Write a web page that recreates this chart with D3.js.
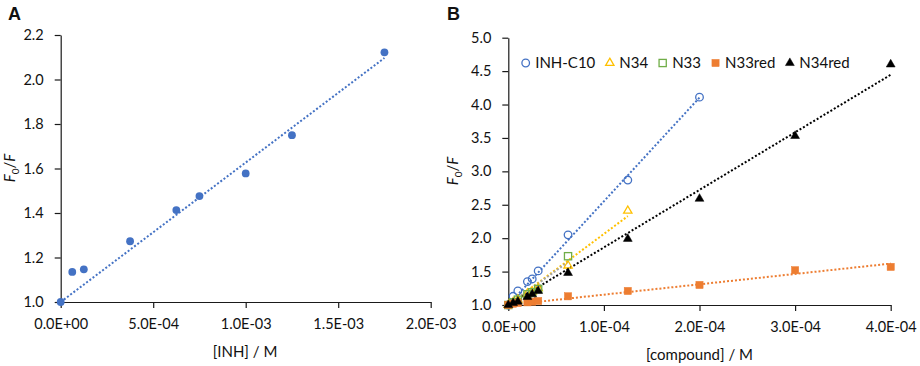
<!DOCTYPE html>
<html><head><meta charset="utf-8">
<script src="https://cdn.jsdelivr.net/npm/d3@7"></script>
<style>
body{margin:0;background:#fff;}
text{font-family:Lato,"Open Sans",sans-serif;fill:#111;}
</style></head>
<body><svg id="c" width="920" height="366"></svg>
<script>
// ---------- Panel A data ----------
const inhConc  = [0, 6.25e-5, 1.25e-4, 3.75e-4, 6.25e-4, 7.5e-4, 1.0e-3, 1.25e-3, 1.75e-3];
const inhRatio = [1.0, 1.135, 1.147, 1.273, 1.413, 1.476, 1.578, 1.75, 2.122];
const aXTicks = [0, 5e-4, 1e-3, 1.5e-3, 2e-3];
const aYTicks = [1.0, 1.2, 1.4, 1.6, 1.8, 2.0, 2.2];

// ---------- Panel B data ----------
const seriesNames = ["INH-C10", "N34", "N33", "N33red", "N34red"];
const c10Conc  = [0, 5e-6, 1e-5, 2e-5, 2.5e-5, 3.125e-5, 6.25e-5, 1.25e-4, 2e-4];
const c10Ratio = [1.0, 1.13, 1.21, 1.35, 1.39, 1.51, 2.05, 2.87, 4.11];
const n34Conc  = [0, 5e-6, 1e-5, 2e-5, 2.5e-5, 3.125e-5, 6.25e-5, 1.25e-4];
const n34Ratio = [1.0, 1.04, 1.08, 1.17, 1.20, 1.25, 1.59, 2.41];
const n33Conc  = [0, 5e-6, 1e-5, 2e-5, 2.5e-5, 3.125e-5, 6.25e-5];
const n33Ratio = [1.0, 1.04, 1.08, 1.16, 1.19, 1.24, 1.73];
const n33rConc  = [0, 5e-6, 1e-5, 2e-5, 2.5e-5, 3.125e-5, 6.25e-5, 1.25e-4, 2e-4, 3e-4, 4e-4];
const n33rRatio = [1.0, 1.02, 1.03, 1.04, 1.05, 1.06, 1.13, 1.21, 1.30, 1.52, 1.57];
const n34rConc  = [0, 5e-6, 1e-5, 2e-5, 2.5e-5, 3.125e-5, 6.25e-5, 1.25e-4, 2e-4, 3e-4, 4e-4];
const n34rRatio = [1.0, 1.03, 1.05, 1.12, 1.16, 1.21, 1.48, 1.99, 2.59, 3.53, 4.60];
const bXTicks = [0, 1e-4, 2e-4, 3e-4, 4e-4];
const bYTicks = [1.0, 1.5, 2.0, 2.5, 3.0, 3.5, 4.0, 4.5, 5.0];

const svg = d3.select("#c");

function sciFmt(v){
  const s = v.toExponential(1).split("e");
  const e = parseInt(s[1],10);
  return s[0] + "E" + (e<0?"-":"+") + String(Math.abs(e)).padStart(2,"0");
}
// Stern–Volmer fit with intercept fixed at 1
function svSlope(xs, ys){
  let num=0, den=0;
  xs.forEach((x,i)=>{num += x*(ys[i]-1); den += x*x;});
  return num/den;
}
function drawAxes(g, x, y, xt, yt){
  const ax = g.append("g").attr("transform",`translate(0,${y.range()[0]})`)
    .call(d3.axisBottom(x).tickValues(xt).tickFormat(sciFmt).tickSize(6).tickPadding(11).tickSizeOuter(0));
  const ay = g.append("g").attr("transform",`translate(${x.range()[0]},0)`)
    .call(d3.axisLeft(y).tickValues(yt).tickFormat(d3.format(".1f")).tickSize(6).tickPadding(11).tickSizeOuter(0));
  [ax,ay].forEach(a=>{
    a.selectAll("path,line").attr("stroke","#1a1a1a").attr("stroke-width",1.2);
    a.selectAll("text").style("font-size","14.5px").style("font-family","Lato, sans-serif").attr("fill","#111");
  });
}
function trend(g, x, y, xs, ys, color){
  const k = svSlope(xs, ys);
  const xmax = d3.max(xs);
  g.append("line")
    .attr("x1", x(0)).attr("y1", y(1))
    .attr("x2", x(xmax)).attr("y2", y(1 + k*xmax))
    .attr("stroke", color).attr("stroke-width", 2).attr("stroke-dasharray","2,2");
}
function yLabel(cx, cy){
  const t = svg.append("text").attr("transform",`translate(${cx},${cy}) rotate(-90)`)
    .attr("text-anchor","middle").style("font-size","15px");
  t.append("tspan").style("font-style","italic").text("F");
  t.append("tspan").attr("dy","4").style("font-size","10px").text("0");
  t.append("tspan").attr("dy","-4").text("/");
  t.append("tspan").style("font-style","italic").text("F");
}

// ---------- Panel A ----------
const xA = d3.scaleLinear().domain([0, 2e-3]).range([60.7, 430.7]);
const yA = d3.scaleLinear().domain([1.0, 2.2]).range([302, 35]);
const gA = svg.append("g");
drawAxes(gA, xA, yA, aXTicks, aYTicks);
trend(gA, xA, yA, inhConc, inhRatio, "#4472C4");
gA.selectAll("circle.pa").data(inhConc.map((c,i)=>[c,inhRatio[i]])).join("circle")
  .attr("cx", d=>xA(d[0])).attr("cy", d=>yA(d[1])).attr("r",3.9).attr("fill","#4472C4");
svg.append("text").attr("x",8).attr("y",20).style("font-family","Liberation Sans, Arial, sans-serif")
  .style("font-weight","bold").style("font-size","18px").attr("fill","#000").text("A");
svg.append("text").attr("x",245).attr("y",357).attr("text-anchor","middle").style("font-size","15px").text("[INH] / M");
yLabel(15, 168);

// ---------- Panel B ----------
const xB = d3.scaleLinear().domain([0, 4e-4]).range([508.3, 890.7]);
const yB = d3.scaleLinear().domain([1.0, 5.0]).range([305, 37.7]);
const gB = svg.append("g");
drawAxes(gB, xB, yB, bXTicks, bYTicks);

const series = [
  {name:seriesNames[0], xs:c10Conc,  ys:c10Ratio,  color:"#4472C4", trend:"#4472C4", shape:"circle", fill:false},
  {name:seriesNames[1], xs:n34Conc,  ys:n34Ratio,  color:"#FFC000", trend:"#FFC000", shape:"triangle", fill:false},
  {name:seriesNames[2], xs:n33Conc,  ys:n33Ratio,  color:"#70AD47", trend:"#A5A5A5", shape:"square", fill:false},
  {name:seriesNames[3], xs:n33rConc, ys:n33rRatio, color:"#ED7D31", trend:"#ED7D31", shape:"square", fill:true},
  {name:seriesNames[4], xs:n34rConc, ys:n34rRatio, color:"#000000", trend:"#000000", shape:"triangle", fill:true}
];
function marker(sel, s){
  if(s.shape==="circle"){
    sel.append("circle").attr("r",3.8);
  } else if(s.shape==="square"){
    sel.append("rect").attr("x",-3.6).attr("y",-3.6).attr("width",7.2).attr("height",7.2);
  } else {
    sel.append("path").attr("d", d3.symbol(d3.symbolTriangle, s.fill?34:30)());
  }
  sel.selectAll("*").attr("fill", s.fill ? s.color : "none")
    .attr("stroke", s.color).attr("stroke-width", s.fill ? 0.5 : 1.3);
}
series.forEach(s=>trend(gB, xB, yB, s.xs, s.ys, s.trend));
series.forEach(s=>{
  s.xs.forEach((c,i)=>{
    const m = gB.append("g").attr("transform",`translate(${xB(c)},${yB(s.ys[i])})`);
    marker(m, s);
  });
});
// legend
let lx = 525.7;
const ly = 63;
series.forEach(s=>{
  const m = svg.append("g").attr("transform",`translate(${lx},${ly})`);
  marker(m, s);
  const t = svg.append("text").attr("x", lx+9.5).attr("y", ly+5.3).style("font-size","15px").text(s.name);
  lx = lx + 9.5 + t.node().getComputedTextLength() + 14.5;
});
svg.append("text").attr("x",447).attr("y",20).style("font-family","Liberation Sans, Arial, sans-serif")
  .style("font-weight","bold").style("font-size","18px").attr("fill","#000").text("B");
svg.append("text").attr("x",699.5).attr("y",360).attr("text-anchor","middle").style("font-size","15px").text("[compound] / M");
yLabel(458, 171);
</script>
</body></html>
